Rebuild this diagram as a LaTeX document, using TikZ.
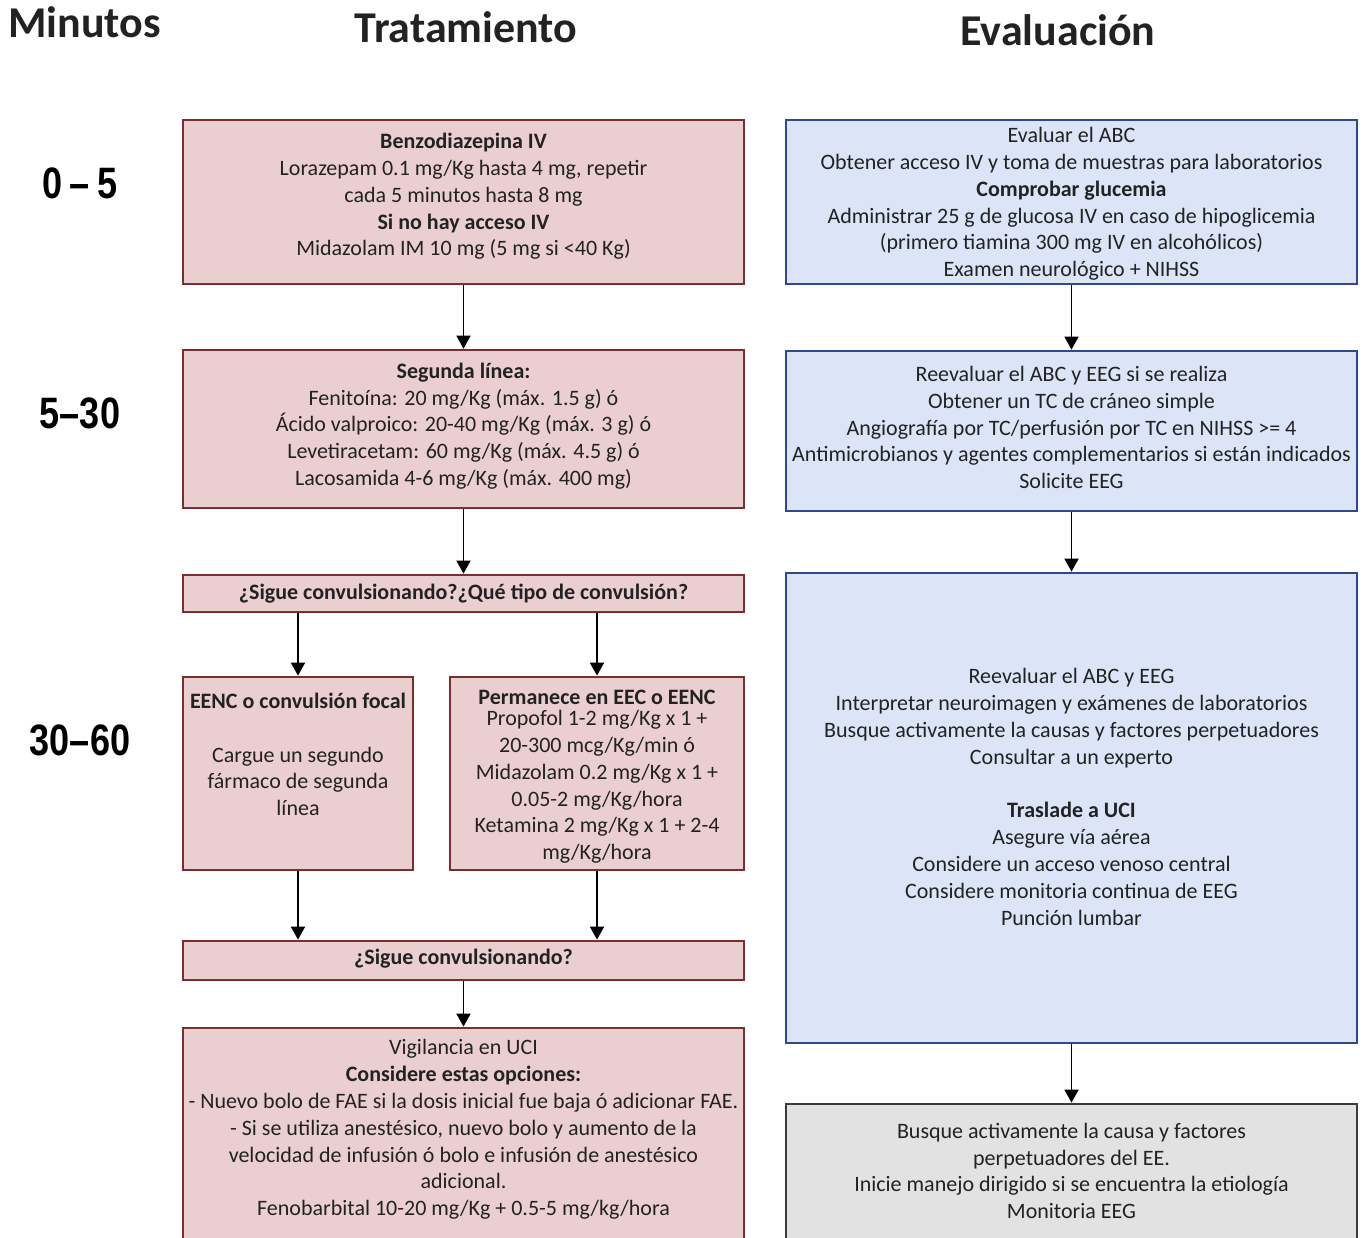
\documentclass[tikz,border=0pt]{standalone}
\usepackage{fontspec}
\setmainfont{Carlito}
\newfontfamily\minfont[FakeStretch=0.82]{Liberation Sans}
\usetikzlibrary{arrows.meta}
\definecolor{pinkfill}{HTML}{EBCFD0}
\definecolor{pinkline}{HTML}{7A2E2E}
\definecolor{bluefill}{HTML}{DCE4F7}
\definecolor{blueline}{HTML}{2E4A8C}
\definecolor{grayfill}{HTML}{E2E2E2}
\definecolor{grayline}{HTML}{3C3C3C}
\definecolor{textcol}{HTML}{222222}
\tikzset{
  pinkbox/.style={draw=pinkline, fill=pinkfill, line width=2.8pt, inner sep=0pt},
  bluebox/.style={draw=blueline, fill=bluefill, line width=2.8pt, inner sep=0pt},
  graybox/.style={draw=grayline, fill=grayfill, line width=2.8pt, inner sep=0pt},
  txt/.style={align=center, font=\fontsize{22}{26.8}\selectfont, text=textcol, inner sep=0pt},
  arr/.style={-{Triangle[width=14pt,length=13pt]}, line width=1.9pt, draw=black},
  head/.style={font=\fontsize{44}{48}\selectfont\bfseries, text=textcol, inner sep=0pt},
  mins/.style={font=\minfont\bfseries\fontsize{44}{48}\selectfont, text=black, inner sep=0pt}
}
\begin{document}
\begin{tikzpicture}[x=1pt,y=-1pt]
\useasboundingbox (0,0) rectangle (1365,1238);
\clip (0,0) rectangle (1365,1238);
% headers
\node[head, anchor=base west] (hmin) at (8,38) {Minutos};
\node[head, anchor=base] (htrat) at (466,43) {Tratamiento};
\node[head, anchor=base] (heval) at (1058,46) {Evaluación};
% minute labels
\node[mins, anchor=base] (m1) at (80,199) {0\,–\,5};
\node[mins, anchor=base] (m2) at (80,428) {5–30};
\node[mins, anchor=base] (m3) at (80,755) {30–60};
% left column boxes
\node[pinkbox, minimum width=561pt, minimum height=164pt] (b1) at (463.5,202) {};
\node[pinkbox, minimum width=561pt, minimum height=158pt] (b2) at (463.5,429) {};
\node[pinkbox, minimum width=561pt, minimum height=37pt] (b3) at (463.5,593.5) {};
\node[pinkbox, minimum width=230pt, minimum height=193pt] (b4) at (298,773.5) {};
\node[pinkbox, minimum width=294pt, minimum height=193pt] (b5) at (597,773.5) {};
\node[pinkbox, minimum width=561pt, minimum height=39pt] (b6) at (463.5,960.5) {};
\node[pinkbox, minimum width=561pt, minimum height=232pt] (b7) at (463.5,1144) {};
% right column boxes
\node[bluebox, minimum width=571pt, minimum height=164pt] (r1) at (1071.5,202) {};
\node[bluebox, minimum width=571pt, minimum height=160pt] (r2) at (1071.5,431) {};
\node[bluebox, minimum width=571pt, minimum height=470pt] (r3) at (1071.5,808) {};
\node[graybox, minimum width=571pt, minimum height=160pt] (r4) at (1071.5,1184) {};
% texts
\node[txt] (b1t) at (463.5,196.5) {\textbf{Benzodiazepina IV}\\Lorazepam 0.1 mg/Kg hasta 4 mg, repetir\\cada 5 minutos hasta 8 mg\\\textbf{Si no hay acceso IV}\\Midazolam IM 10 mg (5 mg si <40 Kg)};
\node[txt] (b2t) at (463.5,426) {\textbf{Segunda línea:}\\Fenitoína: 20 mg/Kg (máx. 1.5 g) ó\\Ácido valproico: 20-40 mg/Kg (máx. 3 g) ó\\Levetiracetam: 60 mg/Kg (máx. 4.5 g) ó\\Lacosamida 4-6 mg/Kg (máx. 400 mg)};
\node[txt] (b3t) at (463.5,594) {\textbf{¿Sigue convulsionando?¿Qué tipo de convulsión?}};
\node[txt] (b4t) at (298,754.5) {\textbf{EENC o convulsión focal}\\[26.8pt]Cargue un segundo\\fármaco de segunda\\línea};
\node[txt] (b5t) at (597,777) {\textbf{Permanece en EEC o EENC}\\[-6pt]Propofol 1-2 mg/Kg x 1 +\\20-300 mcg/Kg/min ó\\Midazolam 0.2 mg/Kg x 1 +\\0.05-2 mg/Kg/hora\\Ketamina 2 mg/Kg x 1 + 2-4\\mg/Kg/hora};
\node[txt] (b6t) at (463.5,959) {\textbf{¿Sigue convulsionando?}};
\node[txt] (b7t) at (463.5,1129.5) {Vigilancia en UCI\\\textbf{Considere estas opciones:}\\- Nuevo bolo de FAE si la dosis inicial fue baja ó adicionar FAE.\\- Si se utiliza anestésico, nuevo bolo y aumento de la\\velocidad de infusión ó bolo e infusión de anestésico\\adicional.\\Fenobarbital 10-20 mg/Kg + 0.5-5 mg/kg/hora};
\node[txt] (r1t) at (1071.5,204) {Evaluar el ABC\\Obtener acceso IV y toma de muestras para laboratorios\\\textbf{Comprobar glucemia}\\Administrar 25 g de glucosa IV en caso de hipoglicemia\\(primero tiamina 300 mg IV en alcohólicos)\\Examen neurológico + NIHSS};
\node[txt] (r2t) at (1071.5,427.5) {Reevaluar el ABC y EEG si se realiza\\Obtener un TC de cráneo simple\\Angiografía por TC/perfusión por TC en NIHSS >= 4\\Antimicrobianos y agentes complementarios si están indicados\\Solicite EEG};
\node[txt] (r3t) at (1071.5,797) {Reevaluar el ABC y EEG\\Interpretar neuroimagen y exámenes de laboratorios\\Busque activamente la causas y factores perpetuadores\\Consultar a un experto\\[26.8pt]\textbf{Traslade a UCI}\\Asegure vía aérea\\Considere un acceso venoso central\\Considere monitoria continua de EEG\\Punción lumbar};
\node[txt] (r4t) at (1071.5,1171) {Busque activamente la causa y factores\\perpetuadores del EE.\\Inicie manejo dirigido si se encuentra la etiología\\Monitoria EEG};
% connectors
\draw[arr] (b1) -- (b2);
\draw[arr] (b2) -- (b3);
\draw[arr] (b3.south -| b4.north) -- (b4.north);
\draw[arr] (b3.south -| b5.north) -- (b5.north);
\draw[arr] (b4.south) -- (b4.south |- b6.north);
\draw[arr] (b5.south) -- (b5.south |- b6.north);
\draw[arr] (b6) -- (b7);
\draw[arr] (r1) -- (r2);
\draw[arr] (r2) -- (r3);
\draw[arr] (r3) -- (r4);
\end{tikzpicture}
\end{document}
